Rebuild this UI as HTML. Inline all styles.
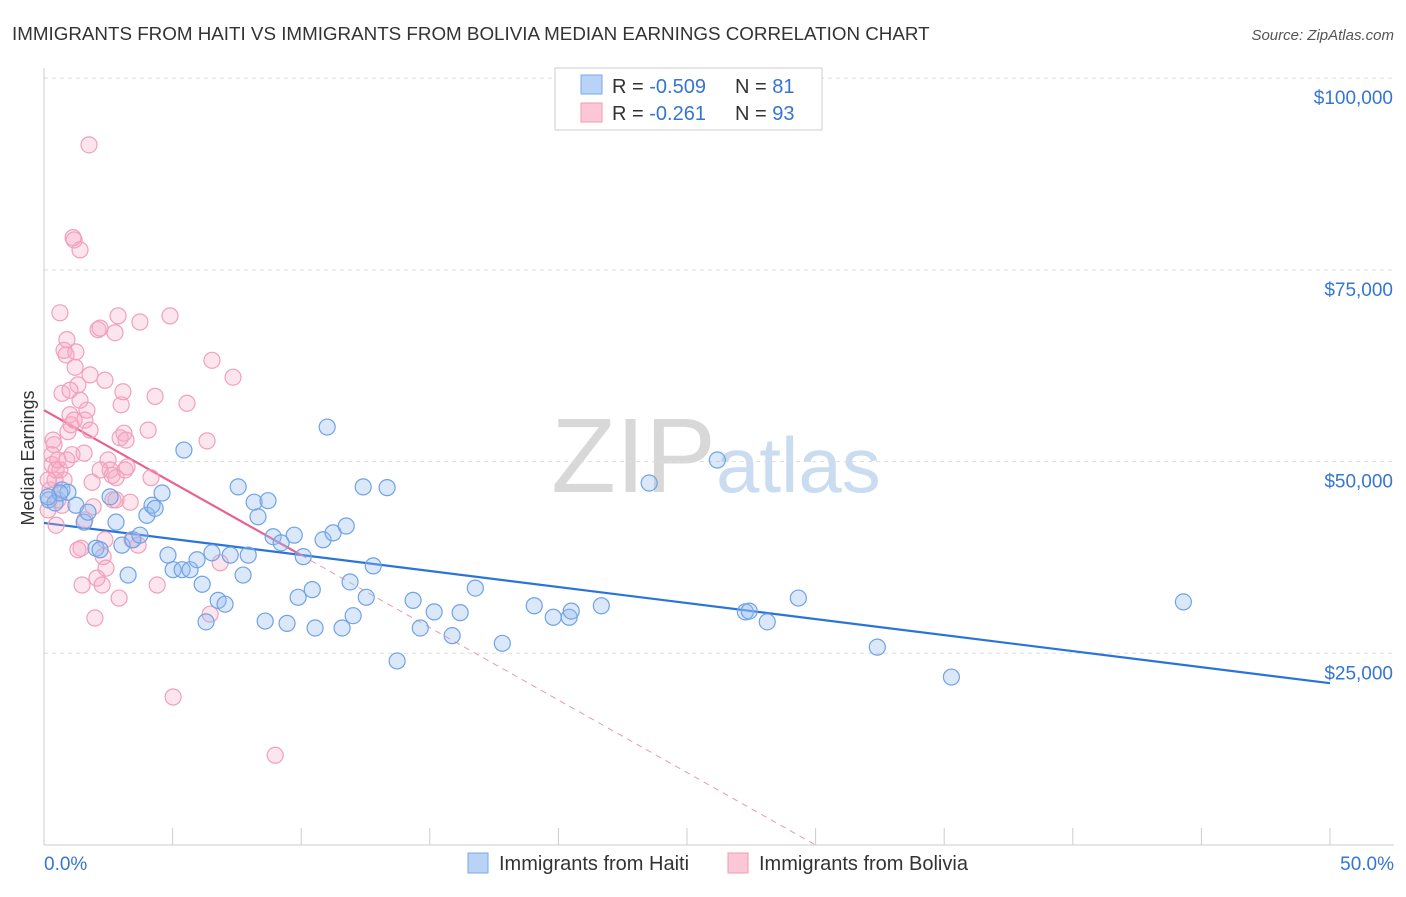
<!DOCTYPE html>
<html><head><meta charset="utf-8"><style>
body{margin:0;background:#fff;font-family:"Liberation Sans",sans-serif;}
svg text{font-family:"Liberation Sans",sans-serif;}
</style></head><body>
<svg id="chart" width="1406" height="892">
<text x="12" y="40" font-size="18.8" fill="#333">IMMIGRANTS FROM HAITI VS IMMIGRANTS FROM BOLIVIA MEDIAN EARNINGS CORRELATION CHART</text>
<text x="1394" y="40" font-size="15" fill="#555" font-style="italic" text-anchor="end">Source: ZipAtlas.com</text>
<text x="716" y="492" font-size="106" fill="#d8d8d8" text-anchor="end" font-family="Liberation Serif">ZIP</text>
<text x="716" y="492" font-size="78" fill="#c9dcf0">atlas</text>
<g id="grid"></g><g id="axes"></g><g id="trend"></g><g id="pts"></g>
<text transform="translate(34,458) rotate(-90)" font-size="18" fill="#333" text-anchor="middle">Median Earnings</text>
<g>
<rect x="555" y="68" width="267" height="62" fill="#fff" stroke="#ccc"/>
<rect x="581" y="75" width="21" height="19" fill="#b8d3f5" stroke="#7aaae8"/>
<rect x="581" y="103" width="21" height="19" fill="#fcc8d8" stroke="#f09ab5"/>
<text x="612" y="93" font-size="20" fill="#333">R = <tspan fill="#3575d3">-0.509</tspan></text>
<text x="735" y="93" font-size="20" fill="#333">N = <tspan fill="#3575d3"> 81</tspan></text>
<text x="612" y="120" font-size="20" fill="#333">R = <tspan fill="#3575d3"> -0.261</tspan></text>
<text x="735" y="120" font-size="20" fill="#333">N = <tspan fill="#3575d3">93</tspan></text>
</g>
<g>
<rect x="468" y="853" width="20" height="20" fill="#b8d3f5" stroke="#7aaae8"/>
<text x="499" y="870" font-size="20" fill="#333">Immigrants from Haiti</text>
<rect x="728" y="853" width="20" height="20" fill="#fcc8d8" stroke="#f09ab5"/>
<text x="759" y="870" font-size="20" fill="#333">Immigrants from Bolivia</text>
</g>
</svg>
<script>
const yTicks=[25000,50000,75000,100000];
const yTickLabels=["$25,000","$50,000","$75,000","$100,000"];
const xTickLabels=["0.0%","50.0%"];
const haitiX=[0.19,0.43,0.7,0.93,1.24,1.56,1.71,2.02,2.18,2.57,2.8,3.03,3.27,3.46,3.73,4.0,4.2,4.32,4.59,4.82,5.02,5.37,5.44,5.68,5.95,6.15,6.3,6.53,6.77,7.04,7.24,7.55,7.74,7.94,8.17,8.32,8.6,8.71,8.91,9.22,9.45,9.73,9.88,10.08,10.43,10.54,10.85,11.01,11.24,11.59,11.75,11.9,12.02,12.41,12.53,12.8,13.34,13.73,14.35,14.63,15.17,15.87,16.18,16.77,17.82,19.06,19.8,20.42,20.5,21.67,23.53,26.18,27.27,27.42,28.12,29.33,32.4,35.28,44.3,0.62,0.16];
const haitiY=[45.0,44.6,46.3,46.0,44.3,42.1,43.4,38.7,38.5,45.4,42.1,39.1,35.2,39.8,40.4,43.0,44.3,43.9,45.9,37.8,35.9,35.9,51.5,35.9,37.2,34.0,29.1,38.1,31.9,31.4,37.8,46.7,35.2,37.8,44.7,42.8,29.2,44.9,40.2,39.4,28.9,40.4,32.3,37.6,33.3,28.3,39.8,54.5,40.7,28.3,41.6,34.3,29.9,46.7,32.3,36.4,46.6,24.0,31.9,28.3,30.4,27.3,30.3,33.5,26.3,31.2,29.7,29.7,30.5,31.2,47.2,50.2,30.4,30.5,29.1,32.2,25.8,21.9,31.7,45.9,45.4];
const boliviaX=[.16,.23,.31,.35,.39,.43,.47,.54,.62,.7,.78,.86,.89,.93,1.01,1.05,1.09,1.13,1.17,1.21,1.24,1.32,1.4,1.44,1.48,1.56,1.59,1.67,1.75,1.79,1.87,1.91,1.98,2.06,2.1,2.18,2.26,2.3,2.37,2.41,2.49,2.57,2.65,2.68,2.76,2.8,2.88,2.92,2.96,3.0,3.07,3.11,3.15,3.19,3.23,3.35,3.42,3.66,3.73,4.05,4.16,4.32,4.4,4.9,5.02,5.56,6.34,6.46,6.53,6.85,7.35,8.99,.47,.31,.62,.78,1.01,1.17,1.32,1.59,1.79,2.18,2.37,2.8,.16,.54,.7,.89,1.4];
const boliviaY=[43.7,46.3,49.6,52.8,52.2,47.6,48.9,45.0,69.4,58.9,64.5,63.9,65.9,53.9,56.1,54.8,50.9,79.2,78.9,62.3,64.3,60.0,77.6,38.7,33.9,51.1,55.4,56.7,91.3,61.3,47.3,44.1,29.6,34.8,67.2,67.4,33.9,37.6,39.8,36.1,50.2,48.9,48.2,45.0,66.8,47.9,69.0,32.2,53.1,57.4,59.1,53.7,48.9,52.8,49.3,44.7,39.8,39.1,68.2,54.1,47.9,58.5,33.9,69.0,19.3,57.6,52.7,30.1,63.2,36.8,61.0,11.7,41.7,50.9,48.9,47.6,59.3,55.4,38.5,42.4,54.1,48.9,60.6,45.0,47.6,50.2,44.3,50.2,58.0];
const haitiTrend=[42.0,21.1];   // earnings (k) at 0% and 50%
const boliviaTrend=[56.7,-1.89]; // intercept (k), slope per %
const NS="http://www.w3.org/2000/svg";
const X=v=>44+v*25.72;
const Y=k=>845-k*1000/130.4;
function mk(t,a,p){const e=document.createElementNS(NS,t);for(const k in a)e.setAttribute(k,a[k]);p.appendChild(e);return e;}
const grid=document.getElementById('grid'),axes=document.getElementById('axes');
yTicks.forEach((t,i)=>{const y=Y(t/1000);
 const l=mk('line',{x1:44,x2:1394,y1:y,y2:y,stroke:'#ddd','stroke-dasharray':'4,4'},grid);
 
 
 const tx=mk('text',{x:1393,y:y+26,'font-size':19,fill:'#3575d3','text-anchor':'end'},axes);tx.textContent=yTickLabels[i];
 
 
});
mk('line',{x1:44,x2:44,y1:68,y2:845,stroke:'#ccc'},axes);
mk('line',{x1:44,x2:1394,y1:845,y2:845,stroke:'#ccc'},axes);
for(let i=0;i<=10;i++){const x=X(i*5);const t=mk('line',{x1:x,x2:x,y1:828,y2:845,stroke:'#ccc'},axes);
 
 }
[[0,'start',44],[50,'end',1394]].forEach((d,i)=>{const t=mk('text',{x:d[2],y:870,'font-size':19,fill:'#3575d3','text-anchor':d[1]},axes);t.textContent=xTickLabels[i];
 
 });
const pts=document.getElementById('pts');
boliviaX.forEach((x,i)=>{const c=mk('circle',{cx:X(x),cy:Y(boliviaY[i]),r:8,fill:'rgba(247,170,196,0.3)',stroke:'#f0a0bb','stroke-width':1.2},pts);
 
 });
haitiX.forEach((x,i)=>{const c=mk('circle',{cx:X(x),cy:Y(haitiY[i]),r:8,fill:'rgba(150,190,240,0.35)',stroke:'#6fa3e6','stroke-width':1.2},pts);
 
 });
const tr=document.getElementById('trend');
const hb=mk('line',{x1:X(0),y1:Y(haitiTrend[0]),x2:X(50),y2:Y(haitiTrend[1]),stroke:'#2a73d9','stroke-width':2.2},tr);


const bY=x=>boliviaTrend[0]+boliviaTrend[1]*x;
const xEnd=-boliviaTrend[0]/boliviaTrend[1];
const bs=mk('line',{x1:X(0),y1:Y(bY(0)),x2:X(10),y2:Y(bY(10)),stroke:'#e8628f','stroke-width':2.2},tr);


const bd=mk('line',{x1:X(10),y1:Y(bY(10)),x2:X(xEnd),y2:Y(0),stroke:'#e89ab3','stroke-width':1,'stroke-dasharray':'6,5'},tr);


</script>
</body></html>
